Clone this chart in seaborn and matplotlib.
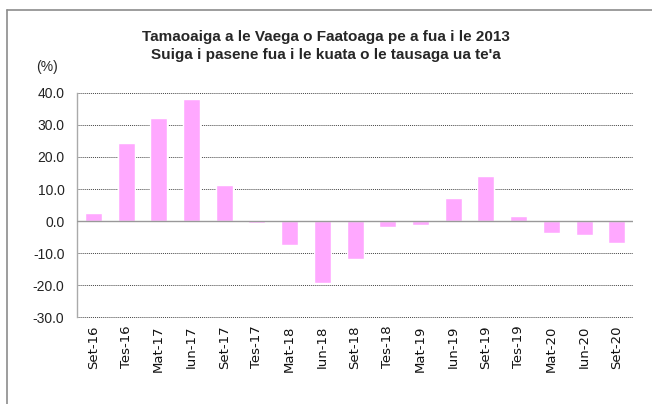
import numpy as np
import pandas as pd
import seaborn as sns
from matplotlib import pyplot as plt
from matplotlib.lines import Line2D

# quarters and percent change vs same quarter previous year
quarters = ["Set-16", "Tes-16", "Mat-17", "Iun-17", "Set-17", "Tes-17",
            "Mat-18", "Iun-18", "Set-18", "Tes-18", "Mat-19", "Iun-19",
            "Set-19", "Tes-19", "Mat-20", "Iun-20", "Set-20"]
change = [2.6, 24.3, 32.3, 38.0, 11.3, -0.7,
          -7.5, -19.3, -11.7, -2.0, -1.2, 7.3,
          14.1, 1.6, -3.6, -4.4, -7.0]
yticks = [-30, -20, -10, 0, 10, 20, 30, 40]

df = pd.DataFrame({"quarter": quarters, "change": change})

sns.set_style("white")
plt.rcParams["font.family"] = ["DejaVu Sans"]

fig = plt.figure(figsize=(6.52, 4.04), dpi=100)
ax = fig.add_axes([0.118, 0.215, 0.853, 0.555])

sns.barplot(data=df, x="quarter", y="change", color="#ffa8ff",
            width=0.52, saturation=1, ax=ax)

ax.set_ylim(-30, 40)
ax.set_yticks(yticks)
ax.set_yticklabels([f"{t:.1f}" for t in yticks], fontsize=10,
                   family=["Liberation Sans"], color="#222222")
ax.set_xticks(range(len(quarters)))
ax.set_xticklabels(quarters, rotation=90, fontsize=9.5, family=["DejaVu Sans"],
                   color="#111111")
ax.tick_params(axis="x", length=0, pad=6)
ax.tick_params(axis="y", length=0, pad=9)
ax.set_xlim(-0.5, len(quarters) - 0.5)
ax.set_xlabel("")
ax.set_ylabel("")

for t in yticks:
    if t != 0:
        ax.axhline(t, color="#444444", linestyle=(0, (1, 1)), linewidth=0.7,
                   zorder=0, clip_on=False)
ax.axhline(0, color="#999999", linewidth=1, zorder=3)

for s in ["top", "right", "bottom"]:
    ax.spines[s].set_visible(False)
ax.spines["left"].set_color("#aaaaaa")
ax.spines["left"].set_linewidth(1)

title_font = ["Liberation Sans", "DejaVu Sans"]
fig.text(0.5, 0.908, "Tamaoaiga a le Vaega o Faatoaga pe a fua i le 2013",
         ha="center", va="center", fontsize=11, fontweight="bold", family=title_font)
fig.text(0.5, 0.864, "Suiga i pasene fua i le kuata o le tausaga ua te'a",
         ha="center", va="center", fontsize=11, fontweight="bold", family=title_font)
fig.text(0.072, 0.834, "(%)", ha="center", va="center", fontsize=10,
         family=["Liberation Sans"])

# outer chart border (left and top visible)
fig.add_artist(Line2D([0.011, 0.011], [0.0, 0.975], color="#8c8c8c", linewidth=1.2,
                      transform=fig.transFigure))
fig.add_artist(Line2D([0.011, 1.0], [0.975, 0.975], color="#8c8c8c", linewidth=1.2,
                      transform=fig.transFigure))

fig.savefig("out.png", dpi=100)
